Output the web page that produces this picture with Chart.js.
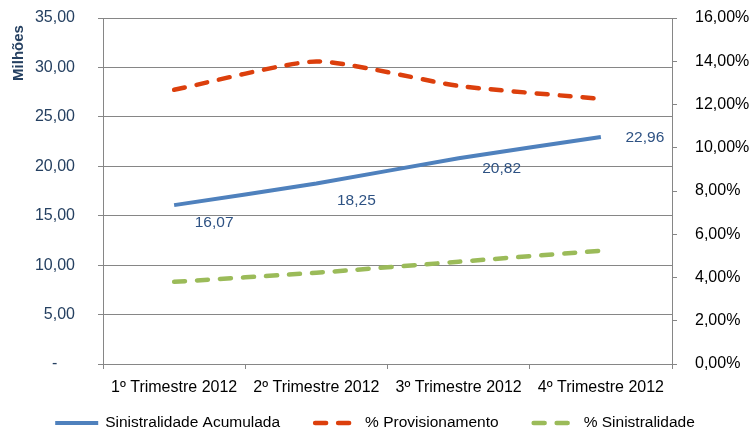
<!DOCTYPE html>
<html>
<head>
<meta charset="utf-8">
<script src="https://cdn.jsdelivr.net/npm/chart.js@4"></script>
<style>
  body { margin: 0; background: #fff; }
  #wrap { width: 751px; height: 432px; }
</style>
</head>
<body>
<div id="wrap"><canvas id="grafico" width="751" height="432"></canvas></div>
<script>
const trimestres = ["1º Trimestre 2012", "2º Trimestre 2012", "3º Trimestre 2012", "4º Trimestre 2012"];
const sinistralidadeAcumulada = [16.07, 18.25, 20.82, 22.96]; // milhões
const provisionamento = [12.68, 13.99, 12.86, 12.26];         // %
const sinistralidade = [3.80, 4.22, 4.73, 5.24];               // %
const ticksEsquerda = [0, 5, 10, 15, 20, 25, 30, 35];
const ticksDireita = [0, 2, 4, 6, 8, 10, 12, 14, 16];

const fonte = "'Liberation Sans', Arial, sans-serif";
const cinza = "#868686";
const azulTexto = "#254061";

const virgula = (v) => v.toFixed(2).replace(".", ",");

// rótulos de dados da série em milhões
const rotulosPlugin = {
  id: "rotulos",
  afterDatasetsDraw(chart) {
    const ctx = chart.ctx;
    const meta = chart.getDatasetMeta(0);
    const desloc = [[40, 18], [40, 17], [43, 11], [44, 1]];
    ctx.save();
    ctx.font = "15.5px " + fonte;
    ctx.fillStyle = "#2E5283";
    ctx.textAlign = "center";
    ctx.textBaseline = "middle";
    meta.data.forEach((p, i) => {
      ctx.fillText(virgula(sinistralidadeAcumulada[i]), p.x + desloc[i][0], p.y + desloc[i][1]);
    });
    ctx.restore();
  }
};

// título do eixo e legenda
const extrasPlugin = {
  id: "extras",
  afterDraw(chart) {
    const ctx = chart.ctx;
    ctx.save();
    ctx.translate(19, 53);
    ctx.rotate(-Math.PI / 2);
    ctx.font = "bold 15px " + fonte;
    ctx.fillStyle = azulTexto;
    ctx.textAlign = "center";
    ctx.textBaseline = "middle";
    ctx.fillText("Milhões", 0, 0);
    ctx.restore();

    ctx.save();
    ctx.font = "15.5px " + fonte;
    const amostra = 47, espaco = 5, intervalo = 33;
    const itens = chart.data.datasets.map(ds => ({ ds, w: amostra + espaco + ctx.measureText(ds.label).width }));
    const total = itens.reduce((s, it) => s + it.w, 0) + intervalo * (itens.length - 1);
    let x = 374 - total / 2;
    const y = 423;
    itens.forEach(({ ds, w }) => {
      ctx.beginPath();
      ctx.strokeStyle = ds.borderColor;
      ctx.lineWidth = ds.borderWidth;
      ctx.lineCap = ds.borderDash ? "round" : "butt";
      ctx.setLineDash(ds.borderDash || []);
      ctx.moveTo(x + 2, y);
      ctx.lineTo(x + amostra - 2, y);
      ctx.stroke();
      ctx.setLineDash([]);
      ctx.fillStyle = "#000";
      ctx.textBaseline = "middle";
      ctx.fillText(ds.label, x + amostra + espaco, y);
      x += w + intervalo;
    });
    ctx.restore();
  }
};

const semSobra = (s) => { s.paddingTop = 0; s.paddingBottom = 0; };

new Chart(document.getElementById("grafico").getContext("2d"), {
  type: "line",
  data: {
    labels: trimestres,
    datasets: [
      {
        label: "Sinistralidade Acumulada",
        data: sinistralidadeAcumulada,
        yAxisID: "y",
        borderColor: "#4F81BD",
        borderWidth: 4,
        tension: 0.2
      },
      {
        label: "% Provisionamento",
        data: provisionamento,
        yAxisID: "y1",
        borderColor: "#DC3F0C",
        borderWidth: 4.5,
        borderDash: [11, 12],
        borderCapStyle: "round",
        tension: 0.2
      },
      {
        label: "% Sinistralidade",
        data: sinistralidade,
        yAxisID: "y1",
        borderColor: "#9BBB59",
        borderWidth: 4.5,
        borderDash: [11, 12],
        borderCapStyle: "round",
        tension: 0.2
      }
    ]
  },
  options: {
    responsive: false,
    animation: false,
    layout: { padding: { top: 18, bottom: 40, left: 0, right: 0 } },
    elements: { point: { radius: 0, hoverRadius: 0 } },
    plugins: {
      legend: { display: false },
      tooltip: { enabled: false }
    },
    scales: {
      x: {
        offset: true,
        grid: { offset: true, drawOnChartArea: false, color: cinza, tickLength: 5 },
        border: { color: cinza },
        ticks: { color: "#000", font: { family: fonte, size: 16 }, padding: 9, maxRotation: 0 },
        afterFit: (s) => { s.height = 28; s.paddingLeft = 0; s.paddingRight = 0; }
      },
      y: {
        position: "left",
        min: 0,
        max: 35,
        afterBuildTicks: (s) => { s.ticks = ticksEsquerda.map(v => ({ value: v })); },
        grid: { color: cinza, tickLength: 5 },
        border: { color: cinza },
        ticks: {
          color: azulTexto,
          font: { family: fonte, size: 16 },
          padding: 23,
          callback: (v) => v === 0 ? "-    " : virgula(v)
        },
        afterFit: (s) => { s.width = 103; semSobra(s); }
      },
      y1: {
        position: "right",
        min: 0,
        max: 16,
        afterBuildTicks: (s) => { s.ticks = ticksDireita.map(v => ({ value: v })); },
        grid: { drawOnChartArea: false, color: cinza, tickLength: 5 },
        border: { color: cinza },
        ticks: {
          color: "#000",
          font: { family: fonte, size: 16 },
          padding: 18,
          callback: (v) => virgula(v) + "%"
        },
        afterFit: (s) => { s.width = 79; semSobra(s); }
      }
    }
  },
  plugins: [rotulosPlugin, extrasPlugin]
});
</script>
</body>
</html>
